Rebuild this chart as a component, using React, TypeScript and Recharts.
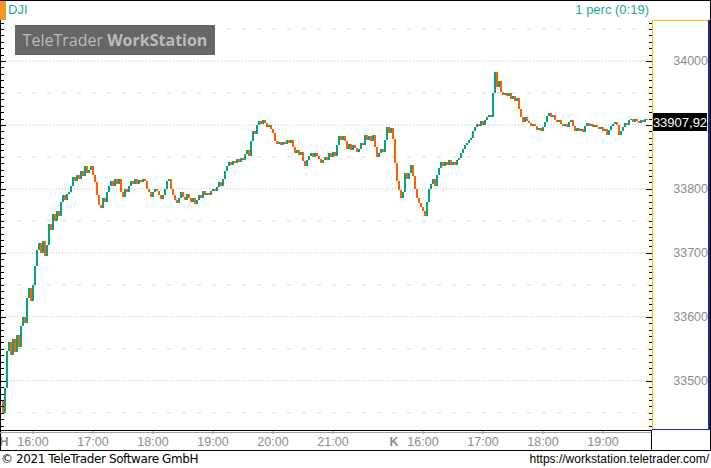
import React from 'react';
import { ComposedChart, Bar, XAxis, YAxis, CartesianGrid } from 'recharts';

// 2-minute closes, Monday (H) 15:30-22:00
const day1Closes = [
  33450, 33488, 33547, 33560, 33540, 33565, 33545, 33572, 33552, 33585,
  33600, 33590, 33630, 33645, 33625, 33650, 33680, 33705, 33715, 33700,
  33718, 33695, 33712, 33745, 33735, 33760, 33750, 33765, 33758, 33780,
  33790, 33782, 33792, 33795, 33805, 33818, 33812, 33822, 33815, 33828,
  33820, 33835, 33825, 33830, 33835, 33822, 33810, 33790, 33775, 33770,
  33785, 33780, 33795, 33805, 33812, 33805, 33815, 33808, 33815, 33795,
  33788, 33800, 33795, 33805, 33812, 33808, 33815, 33808, 33814, 33810,
  33816, 33812, 33800, 33795, 33788, 33795, 33800, 33796, 33790, 33784,
  33790, 33800, 33812, 33815, 33800, 33790, 33782, 33778, 33786, 33795,
  33788, 33782, 33792, 33785, 33780, 33786, 33776, 33782, 33790, 33786,
  33796, 33790, 33794, 33790, 33797, 33800, 33796, 33803, 33810, 33805,
  33815, 33828, 33835, 33842, 33838, 33844, 33840, 33846, 33842, 33848,
  33845, 33855, 33860, 33852, 33875, 33890, 33885, 33900, 33906, 33902,
  33907, 33903, 33897, 33900, 33893, 33888, 33875, 33870, 33874, 33868,
  33873, 33870, 33877, 33872, 33876, 33866, 33856, 33860, 33853, 33857,
  33843, 33836, 33845, 33852, 33856, 33850, 33856, 33852, 33846, 33840,
  33845, 33850, 33845, 33856, 33850, 33858, 33852, 33868, 33882, 33876,
  33882, 33875, 33862, 33870, 33860, 33868, 33864, 33858, 33863, 33872,
  33868, 33884, 33876, 33882, 33875, 33884, 33866, 33850, 33856, 33862,
  33858, 33876, 33896, 33888, 33895,
];

// 2-minute closes, Tuesday (K) 15:30-19:46
const day2Closes = [
  33878, 33840, 33812, 33798, 33785, 33795, 33825, 33815, 33825, 33838,
  33820, 33800, 33785, 33778, 33772, 33765, 33758, 33780, 33800, 33808,
  33815, 33805, 33822, 33832, 33842, 33835, 33842, 33838, 33845, 33838,
  33842, 33837, 33845, 33848, 33856, 33862, 33868, 33872, 33876, 33880,
  33890, 33897, 33902, 33898, 33906, 33900, 33908, 33912, 33915, 33912,
  33950, 33982, 33960, 33968, 33952, 33946, 33950, 33945, 33950, 33940,
  33945, 33938, 33942, 33925, 33912, 33905, 33912, 33906, 33903, 33898,
  33902, 33898, 33892, 33895, 33890, 33896, 33905, 33914, 33918, 33912,
  33915, 33908, 33905, 33908, 33902, 33898, 33902, 33897, 33905, 33908,
  33898, 33890, 33895, 33890, 33893, 33889, 33899, 33903, 33898, 33902,
  33897, 33900, 33896, 33893, 33896, 33890, 33893, 33884, 33892, 33898,
  33902, 33905, 33900, 33884, 33890, 33896, 33903, 33900, 33908, 33910,
  33905, 33910, 33906, 33903, 33907, 33905, 33909, 33907.92,
];

const firstOpen = 33470;

const hourTicks = [
  { i: 15, label: '16:00' }, { i: 45, label: '17:00' }, { i: 75, label: '18:00' },
  { i: 105, label: '19:00' }, { i: 135, label: '20:00' }, { i: 165, label: '21:00' },
  { i: 210, label: '16:00' }, { i: 240, label: '17:00' }, { i: 270, label: '18:00' },
  { i: 300, label: '19:00' },
];
const dayMarkers = [{ i: 0, label: 'H' }, { i: 195, label: 'K' }];

const priceLabels = [33500, 33600, 33700, 33800, 33900, 34000];
const halfLevels = [33450, 33550, 33650, 33750, 33850, 33950, 34050];
const yDomain = [33423, 34064];
const minorTicks = Array.from({ length: 64 }, (_, k) => 33430 + k * 10);

const UP = '#05a386';
const DOWN = '#ff6000';
const TEAL = '#1aaa9a';

const closes = [...day1Closes, ...day2Closes];
const lastClose = closes[closes.length - 1];
const data = closes.map((c, i) => {
  const o = i === 0 ? firstOpen : closes[i - 1];
  return { i, o, c, range: [Math.min(o, c), Math.max(o, c)] };
});
const yTicks = [...minorTicks, lastClose];

const hourMap: Record<number, string> = {};
hourTicks.forEach((t) => (hourMap[t.i] = t.label));
const dayMap: Record<number, string> = {};
dayMarkers.forEach((t) => (dayMap[t.i] = t.label));

const AXIS_FONT = "'Liberation Sans', Arial, sans-serif";

const Candle = (props: any) => {
  const { x, y, width, height, payload } = props;
  const x1 = Math.round(x);
  const x2 = Math.round(x + width);
  const top = height < 0 ? y + height : y;
  const h = Math.abs(height);
  const ty = Math.round(top);
  const hh = Math.max(1, Math.round(top + h) - ty);
  return (
    <rect x={x1} y={ty} width={Math.max(1, x2 - x1)} height={hh}
      fill={payload.c >= payload.o ? UP : DOWN} shapeRendering="crispEdges" />
  );
};

const YTick = (props: any) => {
  const { y, payload } = props;
  const v = payload.value;
  if (v === lastClose) {
    const yc = Math.round(y);
    return (
      <g>
        <rect x={653} y={yc - 7} width={54} height={18} fill="#000" />
        <text x={680} y={yc + 7} textAnchor="middle" fill="#fff" fontSize={13}
          fontFamily={AXIS_FONT}>{lastClose.toFixed(2).replace('.', ',')}</text>
      </g>
    );
  }
  const major = v % 100 === 0;
  const yy = Math.round(y) + 0.5;
  return (
    <g>
      <line x1={major ? 646 : 649} x2={652} y1={yy} y2={yy} stroke="#000" />
      <line x1={1} x2={major ? 6 : 4} y1={yy} y2={yy} stroke="#000" />
      {major && (
        <text x={708} y={y} dy={4.5} textAnchor="end" fill="#8c8c8c" fontSize={12.5}
          fontFamily={AXIS_FONT}>{v}</text>
      )}
    </g>
  );
};

const XTick = (props: any) => {
  const { x, payload } = props;
  const idx = payload.value;
  const hl = hourMap[idx];
  const dl = dayMap[idx];
  if (!hl && !dl) return <g />;
  if (dl) {
    return (
      <text x={x + 1} y={446} textAnchor="middle" fill="#8c8c8c" fontSize={12.5} fontWeight="bold"
        fontFamily={AXIS_FONT}>{dl}</text>
    );
  }
  return (
    <g>
      <line x1={x} x2={x} y1={430} y2={434} stroke="#9a9a9a" />
      <text x={x} y={446} textAnchor="middle" fill="#8c8c8c" fontSize={12.5}
        fontFamily={AXIS_FONT}>{hl}</text>
    </g>
  );
};

const box = (l: number, t: number, w: number, h: number, bg: string): React.CSSProperties => ({
  position: 'absolute', left: l, top: t, width: w, height: h, background: bg,
});

export default function App() {
  return (
    <div style={{ position: 'absolute', left: 0, top: 0, width: 711, height: 468, background: '#fff', overflow: 'hidden',
      fontFamily: AXIS_FONT }}>
      <div style={{ position: 'absolute', left: 0, top: 0 }}>
        <ComposedChart width={711} height={468} data={data}
          margin={{ top: 20, right: 2, bottom: 18, left: 2 }} barCategoryGap={0} barGap={0}>
          <CartesianGrid yAxisId="R" vertical={false} horizontalValues={priceLabels}
            stroke="#c4c4c4" strokeDasharray="1 2" />
          <CartesianGrid yAxisId="R" vertical={false} horizontalValues={halfLevels}
            stroke="#d8d8d8" strokeDasharray="4 11" />
          <XAxis dataKey="i" type="category" interval={0} tick={<XTick />} tickLine={false}
            axisLine={false} height={20} padding={{ left: 0, right: 2 }} />
          <YAxis yAxisId="R" orientation="right" domain={yDomain} allowDataOverflow type="number"
            ticks={yTicks} interval={0} tick={<YTick />} tickLine={false} axisLine={false} width={59} />
          <Bar yAxisId="R" dataKey="range" isAnimationActive={false} shape={<Candle />} />
        </ComposedChart>
      </div>
      {/* frame */}
      <div style={box(0, 0, 711, 1, '#000')} />
      <div style={box(0, 0, 1, 451, '#000')} />
      <div style={box(710, 0, 1, 451, '#000')} />
      <div style={box(0, 430, 652, 1, '#000')} />
      <div style={box(0, 432, 652, 1, '#a0a0a0')} />
      <div style={box(0, 450, 711, 1, '#000')} />
      <div style={box(651, 430, 1, 20, '#000')} />
      {/* price axis panel */}
      <div style={box(652, 20, 1, 410, '#f2c200')} />
      <div style={box(652, 20, 56, 1, '#f2c200')} />
      <div style={box(708, 20, 2, 410, '#1c2a8c')} />
      <div style={box(652, 429, 58, 1, '#1c2a8c')} />
      {/* header */}
      <div style={box(0, 1, 6, 19, '#f7941d')} />
      <div style={{ position: 'absolute', left: 8, top: 2, fontSize: 13, color: TEAL, lineHeight: '16px' }}>DJI</div>
      <div style={{ position: 'absolute', right: 62, top: 2, fontSize: 13, color: TEAL, lineHeight: '16px' }}>1 perc (0:19)</div>
      {/* watermark */}
      <div style={{ ...box(15, 25, 200, 30, '#666'), color: '#bcbcbc', fontFamily: "'Open Sans', 'Noto Sans', sans-serif",
        fontSize: 16, lineHeight: '30px', textAlign: 'center', whiteSpace: 'nowrap' }}>
        TeleTrader <b>WorkStation</b>
      </div>
      {/* footer */}
      <div style={{ position: 'absolute', left: 1, top: 452, fontSize: 12, color: '#000', lineHeight: '15px', fontFamily: "'DejaVu Sans', sans-serif", letterSpacing: -0.4 }}>
        © 2021 TeleTrader Software GmbH
      </div>
      <div style={{ position: 'absolute', right: 2, top: 452, fontSize: 12, color: '#000', lineHeight: '15px' }}>
        https://workstation.teletrader.com/
      </div>
    </div>
  );
}
